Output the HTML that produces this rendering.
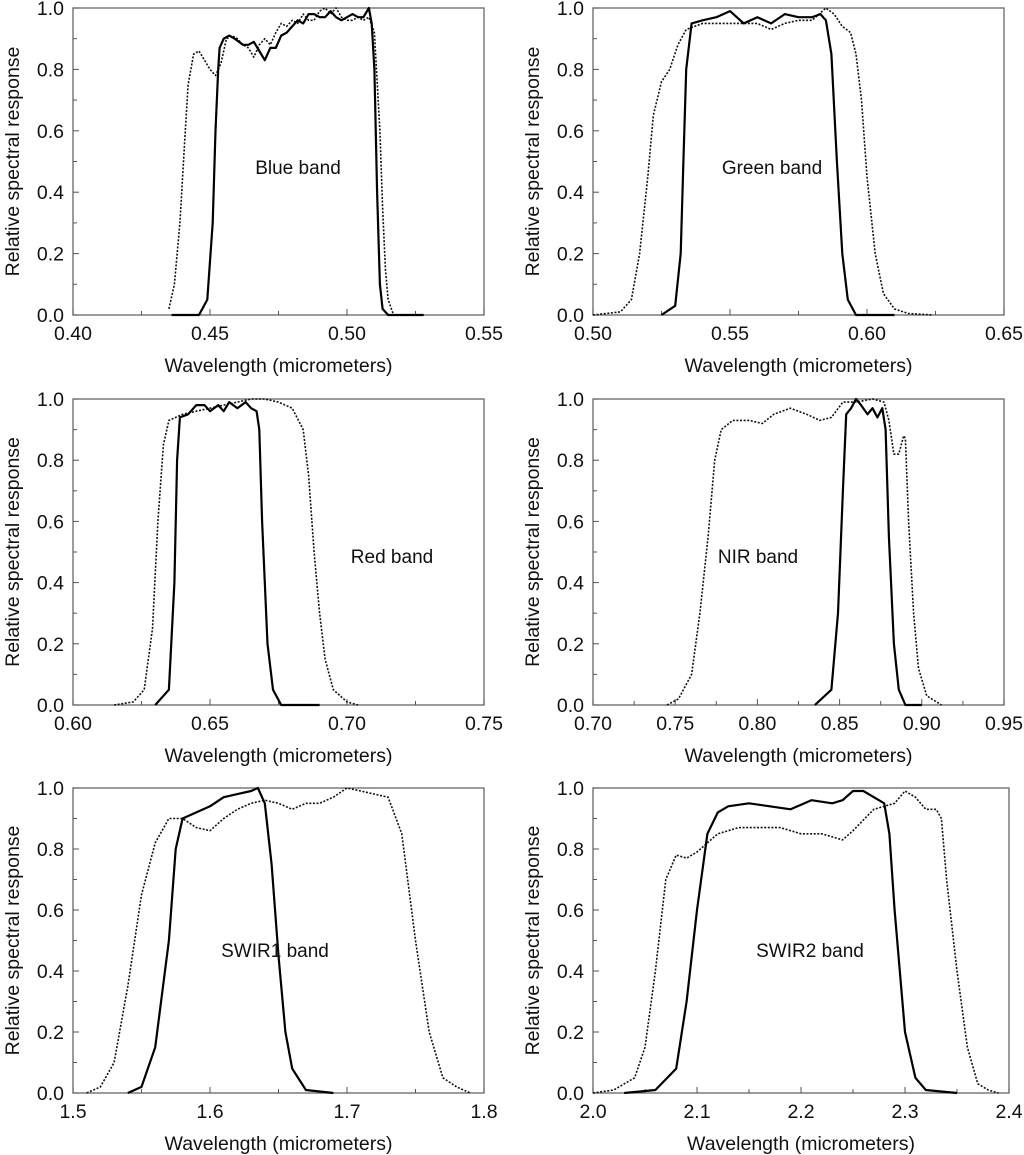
<!DOCTYPE html>
<html><head><meta charset="utf-8">
<style>
html,body{margin:0;padding:0;background:#fff;}
svg{display:block;font-family:"Liberation Sans",Arial,sans-serif;}
</style></head>
<body>
<svg id="chart" width="1024" height="1155" viewBox="0 0 1024 1155" xmlns="http://www.w3.org/2000/svg"></svg>
<script>
// ---- data ----
const blueSolidX=[0.436,0.446,0.449,0.451,0.452,0.453,0.4535,0.455,0.457,0.459,0.462,0.464,0.466,0.468,0.470,0.472,0.474,0.476,0.478,0.480,0.482,0.484,0.486,0.488,0.490,0.492,0.494,0.496,0.498,0.500,0.502,0.504,0.506,0.508,0.509,0.510,0.511,0.512,0.513,0.515,0.528];
const blueSolidY=[0,0,0.05,0.3,0.6,0.8,0.87,0.9,0.91,0.9,0.88,0.88,0.89,0.86,0.83,0.87,0.87,0.91,0.92,0.94,0.96,0.95,0.98,0.98,0.97,0.97,0.99,0.97,0.96,0.97,0.98,0.97,0.97,1.0,0.95,0.8,0.4,0.1,0.02,0,0];
const blueDotX=[0.435,0.437,0.439,0.441,0.442,0.444,0.446,0.448,0.450,0.452,0.454,0.456,0.458,0.460,0.462,0.464,0.466,0.468,0.470,0.472,0.474,0.476,0.478,0.480,0.482,0.484,0.486,0.488,0.490,0.492,0.494,0.496,0.498,0.500,0.502,0.504,0.506,0.508,0.510,0.512,0.513,0.514,0.515,0.517];
const blueDotY=[0.02,0.1,0.3,0.6,0.75,0.85,0.86,0.83,0.80,0.78,0.82,0.9,0.91,0.9,0.88,0.87,0.84,0.88,0.90,0.88,0.92,0.95,0.94,0.96,0.95,0.98,0.96,0.96,0.99,1.0,0.98,1.0,0.97,0.96,0.96,0.97,0.96,0.97,0.92,0.6,0.35,0.15,0.05,0];
const greenSolidX=[0.525,0.530,0.532,0.533,0.534,0.536,0.540,0.545,0.550,0.555,0.560,0.565,0.570,0.575,0.580,0.583,0.585,0.587,0.589,0.591,0.593,0.596,0.61];
const greenSolidY=[0,0.03,0.2,0.5,0.8,0.95,0.96,0.97,0.99,0.95,0.97,0.95,0.98,0.97,0.97,0.98,0.96,0.85,0.5,0.2,0.05,0,0];
const greenDotX=[0.500,0.510,0.514,0.517,0.520,0.522,0.525,0.528,0.531,0.534,0.540,0.550,0.560,0.565,0.570,0.575,0.580,0.585,0.588,0.591,0.594,0.596,0.598,0.600,0.603,0.606,0.610,0.615,0.624];
const greenDotY=[0,0.01,0.05,0.2,0.45,0.65,0.76,0.8,0.88,0.93,0.95,0.95,0.95,0.93,0.95,0.96,0.96,1.0,0.98,0.94,0.92,0.85,0.7,0.45,0.2,0.07,0.02,0.005,0];
const redSolidX=[0.630,0.635,0.637,0.638,0.639,0.642,0.645,0.648,0.650,0.653,0.655,0.657,0.660,0.663,0.665,0.667,0.668,0.669,0.671,0.673,0.676,0.69];
const redSolidY=[0,0.05,0.4,0.8,0.94,0.95,0.98,0.98,0.96,0.98,0.96,0.99,0.97,0.99,0.97,0.96,0.9,0.6,0.2,0.05,0,0];
const redDotX=[0.615,0.622,0.626,0.629,0.631,0.633,0.635,0.640,0.645,0.650,0.655,0.660,0.665,0.670,0.675,0.680,0.684,0.686,0.688,0.690,0.692,0.695,0.700,0.704];
const redDotY=[0,0.01,0.05,0.25,0.6,0.85,0.93,0.95,0.96,0.97,0.98,0.99,1.0,1.0,0.99,0.97,0.9,0.75,0.5,0.3,0.15,0.05,0.01,0];
const nirSolidX=[0.835,0.845,0.849,0.852,0.854,0.857,0.860,0.863,0.867,0.870,0.873,0.876,0.878,0.880,0.883,0.886,0.890,0.90];
const nirSolidY=[0,0.05,0.3,0.7,0.95,0.97,1.0,0.98,0.95,0.97,0.94,0.97,0.9,0.55,0.2,0.05,0,0];
const nirDotX=[0.745,0.752,0.760,0.765,0.770,0.774,0.778,0.785,0.795,0.803,0.810,0.820,0.830,0.838,0.845,0.852,0.860,0.870,0.877,0.880,0.883,0.886,0.889,0.890,0.892,0.895,0.898,0.903,0.912];
const nirDotY=[0,0.02,0.1,0.3,0.55,0.8,0.9,0.93,0.93,0.92,0.95,0.97,0.95,0.93,0.94,0.99,0.99,1.0,0.99,0.93,0.82,0.82,0.88,0.87,0.6,0.3,0.12,0.03,0];
const swir1SolidX=[1.54,1.55,1.56,1.57,1.575,1.58,1.59,1.60,1.61,1.62,1.63,1.635,1.64,1.645,1.65,1.655,1.66,1.67,1.69];
const swir1SolidY=[0,0.02,0.15,0.5,0.8,0.9,0.92,0.94,0.97,0.98,0.99,1.0,0.95,0.75,0.45,0.2,0.08,0.01,0];
const swir1DotX=[1.51,1.52,1.53,1.54,1.55,1.56,1.57,1.58,1.59,1.60,1.61,1.62,1.63,1.64,1.65,1.66,1.67,1.68,1.69,1.70,1.71,1.72,1.73,1.74,1.75,1.76,1.77,1.78,1.79];
const swir1DotY=[0,0.02,0.1,0.35,0.65,0.82,0.9,0.9,0.87,0.86,0.9,0.93,0.95,0.96,0.95,0.93,0.95,0.95,0.97,1.0,0.99,0.98,0.97,0.85,0.5,0.2,0.05,0.02,0];
const swir2SolidX=[2.03,2.06,2.08,2.09,2.10,2.11,2.12,2.13,2.15,2.17,2.19,2.21,2.23,2.24,2.25,2.26,2.27,2.28,2.285,2.29,2.30,2.31,2.32,2.35];
const swir2SolidY=[0,0.01,0.08,0.3,0.6,0.85,0.92,0.94,0.95,0.94,0.93,0.96,0.95,0.96,0.99,0.99,0.97,0.95,0.85,0.6,0.2,0.05,0.01,0];
const swir2DotX=[2.00,2.02,2.04,2.05,2.06,2.07,2.08,2.09,2.10,2.11,2.12,2.14,2.16,2.18,2.20,2.22,2.24,2.25,2.27,2.29,2.30,2.31,2.32,2.33,2.335,2.34,2.35,2.36,2.37,2.38,2.39];
const swir2DotY=[0,0.01,0.05,0.15,0.4,0.7,0.78,0.77,0.79,0.82,0.85,0.87,0.87,0.87,0.85,0.85,0.83,0.86,0.93,0.95,0.99,0.97,0.93,0.93,0.9,0.7,0.4,0.15,0.03,0.01,0];
const yTicks=[0,0.2,0.4,0.6,0.8,1.0];
const yTickLabels=["0.0","0.2","0.4","0.6","0.8","1.0"];

const panels=[
 {name:"blue",label:"Blue band",lx:298,ly:174,x0:73,x1:484,y0:8,y1:315,xmin:0.40,xmax:0.55,ticks:[0.40,0.45,0.50,0.55],tl:["0.40","0.45","0.50","0.55"],minor:0.025,sx:blueSolidX,sy:blueSolidY,dx:blueDotX,dy:blueDotY},
 {name:"green",label:"Green band",lx:772,ly:174,x0:593,x1:1004,y0:8,y1:315,xmin:0.50,xmax:0.65,ticks:[0.50,0.55,0.60,0.65],tl:["0.50","0.55","0.60","0.65"],minor:0.025,sx:greenSolidX,sy:greenSolidY,dx:greenDotX,dy:greenDotY},
 {name:"red",label:"Red band",lx:392,ly:563,x0:73,x1:484,y0:399,y1:705,xmin:0.60,xmax:0.75,ticks:[0.60,0.65,0.70,0.75],tl:["0.60","0.65","0.70","0.75"],minor:0.025,sx:redSolidX,sy:redSolidY,dx:redDotX,dy:redDotY},
 {name:"nir",label:"NIR band",lx:758,ly:563,x0:593,x1:1004,y0:399,y1:705,xmin:0.70,xmax:0.95,ticks:[0.70,0.75,0.80,0.85,0.90,0.95],tl:["0.70","0.75","0.80","0.85","0.90","0.95"],minor:0.025,sx:nirSolidX,sy:nirSolidY,dx:nirDotX,dy:nirDotY},
 {name:"swir1",label:"SWIR1 band",lx:275,ly:957,x0:73,x1:484,y0:788,y1:1093,xmin:1.5,xmax:1.8,ticks:[1.5,1.6,1.7,1.8],tl:["1.5","1.6","1.7","1.8"],minor:0.05,sx:swir1SolidX,sy:swir1SolidY,dx:swir1DotX,dy:swir1DotY},
 {name:"swir2",label:"SWIR2 band",lx:810,ly:957,x0:593,x1:1009,y0:788,y1:1093,xmin:2.0,xmax:2.4,ticks:[2.0,2.1,2.2,2.3,2.4],tl:["2.0","2.1","2.2","2.3","2.4"],minor:0.05,sx:swir2SolidX,sy:swir2SolidY,dx:swir2DotX,dy:swir2DotY}
];
const NS="http://www.w3.org/2000/svg";
const svg=document.getElementById('chart');
function mk(tag,attrs,parent){const e=document.createElementNS(NS,tag);for(const k in attrs)e.setAttribute(k,attrs[k]);parent.appendChild(e);return e;}
panels.forEach(p=>{
 const g=mk('g',{},svg);
 
 
 const X=v=>p.x0+(v-p.xmin)/(p.xmax-p.xmin)*(p.x1-p.x0);
 const Y=v=>p.y1-v*(p.y1-p.y0);
 const fr=mk('rect',{x:p.x0,y:p.y0,width:p.x1-p.x0,height:p.y1-p.y0,fill:'none',stroke:'#666','stroke-width':1.3},g);
 
 
 for(let i=0;i<=10;i++){const v=i/10;const major=i%2===0;
  mk('line',{x1:p.x0,x2:p.x0+(major?6:4),y1:Y(v),y2:Y(v),stroke:'#555','stroke-width':1},g);}
 yTicks.forEach((v,i)=>{const t=mk('text',{x:p.x0-9,y:Y(v)+7,'text-anchor':'end','font-size':19.5,fill:'#111'},g);t.textContent=yTickLabels[i];
  
  });
 const nm=Math.round((p.xmax-p.xmin)/p.minor);
 for(let i=0;i<=nm;i++){const v=p.xmin+i*p.minor;
  mk('line',{x1:X(v),x2:X(v),y1:p.y1,y2:p.y1-(i%2===0?6:4),stroke:'#555','stroke-width':1},g);}
 p.ticks.forEach((v,i)=>{const t=mk('text',{x:X(v),y:p.y1+25,'text-anchor':'middle','font-size':19.5,fill:'#111'},g);t.textContent=p.tl[i];
  
  });
 const xt=mk('text',{x:(p.x0+p.x1)/2,y:p.y1+57,'text-anchor':'middle','font-size':19.5,fill:'#111'},g);xt.textContent='Wavelength (micrometers)';
 
 
 const cy=(p.y0+p.y1)/2, cx=p.x0-54;
 const yt=mk('text',{x:cx,y:cy,'text-anchor':'middle','font-size':19.5,fill:'#111',transform:`rotate(-90 ${cx} ${cy})`},g);yt.textContent='Relative spectral response';
 
 
 const pts=(xs,ys)=>xs.map((x,i)=>X(x).toFixed(1)+','+Y(ys[i]).toFixed(1)).join(' ');
 const d=mk('polyline',{points:pts(p.dx,p.dy),fill:'none',stroke:'#111','stroke-width':1.6,'stroke-dasharray':'2,1.6','stroke-linejoin':'round'},g);
 
 
 const s=mk('polyline',{points:pts(p.sx,p.sy),fill:'none',stroke:'#000','stroke-width':2.2,'stroke-linejoin':'round'},g);
 
 
 const lb=mk('text',{x:p.lx,y:p.ly,'text-anchor':'middle','font-size':19,fill:'#111'},g);lb.textContent=p.label;
 
 
});
</script>
</body></html>
